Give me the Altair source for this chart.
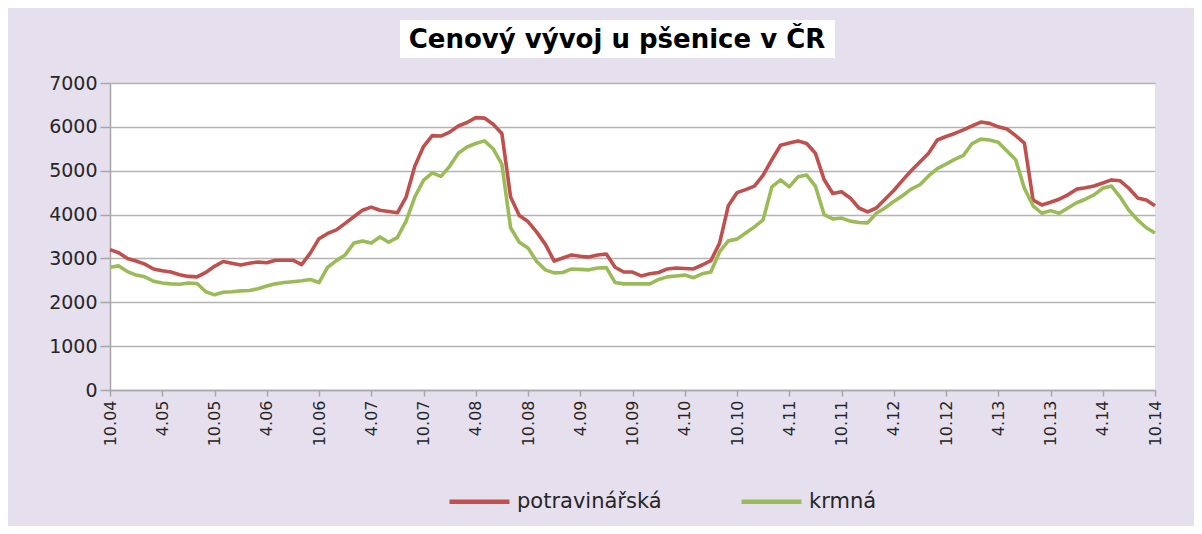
import altair as alt
import pandas as pd

# Monthly prices, Oct 2004 .. Oct 2014 (121 months), CZK/t
potravinarska = [
    3200, 3130, 3000, 2940, 2870, 2760, 2720, 2690, 2630, 2590,
    2580, 2680, 2820, 2930, 2890, 2850, 2890, 2920, 2900, 2960,
    2960, 2960, 2860, 3120, 3450, 3570, 3650, 3800, 3950, 4100,
    4170, 4100, 4070, 4040, 4400, 5100, 5550, 5800, 5790, 5880,
    6020, 6100, 6210, 6200, 6060, 5850, 4400, 3980, 3840, 3600,
    3320, 2940, 3010, 3080, 3050, 3030, 3080, 3100, 2800, 2690,
    2690, 2600, 2650, 2680, 2760, 2780, 2770, 2760, 2850, 2950,
    3350, 4200, 4500, 4570, 4650, 4900, 5250, 5580, 5630, 5680,
    5620, 5400, 4800, 4480, 4520, 4380, 4150, 4060, 4150, 4350,
    4550, 4780, 5000, 5200, 5400, 5700, 5780, 5850, 5930, 6020,
    6110, 6080, 6000, 5950, 5800, 5630, 4330, 4220, 4280, 4350,
    4450, 4580, 4610, 4650, 4720, 4790, 4770, 4600, 4380, 4330,
    4200,
]
krmna = [
    2800, 2830, 2700, 2620, 2580, 2480, 2440, 2420, 2410, 2440,
    2430, 2240, 2170, 2230, 2240, 2260, 2270, 2310, 2370, 2420,
    2450, 2470, 2490, 2520, 2450, 2800, 2950, 3080, 3350, 3400,
    3350, 3490, 3370, 3480, 3850, 4400, 4780, 4950, 4870, 5100,
    5400, 5540, 5620, 5680, 5500, 5150, 3700, 3370, 3240, 2930,
    2740, 2670, 2680, 2760, 2750, 2740, 2780, 2790, 2450, 2420,
    2420, 2420, 2420, 2520, 2580, 2600, 2620, 2560, 2650, 2690,
    3150, 3400, 3440, 3580, 3720, 3880, 4630, 4790, 4630, 4860,
    4900, 4650, 4000, 3900, 3920, 3850, 3820, 3810, 4030, 4150,
    4300, 4430, 4580, 4680, 4880, 5050, 5150, 5260, 5350, 5620,
    5720, 5700, 5650, 5450, 5250, 4600, 4200, 4030, 4090, 4030,
    4150, 4270, 4350, 4450, 4600, 4650, 4400, 4100, 3880, 3700,
    3580,
]
tick_labels = ["10.04", "4.05", "10.05", "4.06", "10.06", "4.07", "10.07",
               "4.08", "10.08", "4.09", "10.09", "4.10", "10.10", "4.11",
               "10.11", "4.12", "10.12", "4.13", "10.13", "4.14", "10.14"]
series_names = ["potravinářská", "krmná"]
series_colors = ["#c0504d", "#9bbb59"]
title_text = "Cenový vývoj u pšenice v ČR"

rows = []
for name, vals in zip(series_names, [potravinarska, krmna]):
    for i, v in enumerate(vals):
        rows.append({"m": i, "cena": v, "druh": name})
df = pd.DataFrame(rows)

FONT = "DejaVu Sans"
label_array = "[" + ",".join("'" + t + "'" for t in tick_labels) + "]"

lines = alt.Chart(df).mark_line(strokeWidth=3.6, strokeJoin="round").encode(
    x=alt.X("m:Q", scale=alt.Scale(domain=[0, 120], nice=False, zero=False),
            axis=alt.Axis(values=list(range(0, 121, 6)), title=None,
                          labelExpr=label_array + "[round(datum.value/6)]",
                          labelAngle=270, labelFontSize=16, labelFont=FONT,
                          labelColor="#262626", labelPadding=4,
                          tickSize=6, tickColor="#a6a6a6", tickWidth=1.5,
                          domainColor="#a6a6a6", domainWidth=1.5, grid=False,
                          labelAlign="right", labelBaseline="middle")),
    y=alt.Y("cena:Q", scale=alt.Scale(domain=[0, 7000], nice=False),
            axis=alt.Axis(values=list(range(0, 7001, 1000)), title=None, format="d",
                          labelFontSize=19, labelFont=FONT, labelColor="#262626",
                          labelPadding=3, tickSize=10, tickColor="#a6a6a6",
                          tickWidth=1.5, domainColor="#a6a6a6", domainWidth=1.5,
                          gridColor="#b4b4b4", gridWidth=1.5)),
    color=alt.Color("druh:N", sort=series_names,
                    scale=alt.Scale(domain=series_names, range=series_colors),
                    legend=alt.Legend(title=None, orient="none", direction="horizontal",
                                      legendX=337, legendY=386, symbolType="stroke",
                                      symbolSize=3600, symbolStrokeWidth=4.5,
                                      labelFontSize=21, labelFont=FONT,
                                      labelColor="#262626", labelOffset=5,
                                      columnPadding=70)),
    order="m:Q",
)

title_box = alt.Chart(pd.DataFrame({"a": [0]})).mark_rect(fill="white").encode(
    x=alt.value(290), x2=alt.value(725), y=alt.value(-63), y2=alt.value(-25)
)
title_mark = alt.Chart(pd.DataFrame({"a": [0]})).mark_text(
    font=FONT, fontSize=26, fontWeight="bold", color="#000000",
    align="center", baseline="middle"
).encode(x=alt.value(507), y=alt.value(-43), text=alt.value(title_text))

chart = alt.layer(title_box, title_mark, lines).properties(
    width=1045, height=307,
    autosize=alt.AutoSizeParams(type="none"),
    padding={"left": 102, "top": 75, "right": 39, "bottom": 136},
    background="#e6e0ee",
).configure_view(fill="white", stroke=None)

chart.save("out.html", embed_options={"renderer": "svg", "actions": False})
